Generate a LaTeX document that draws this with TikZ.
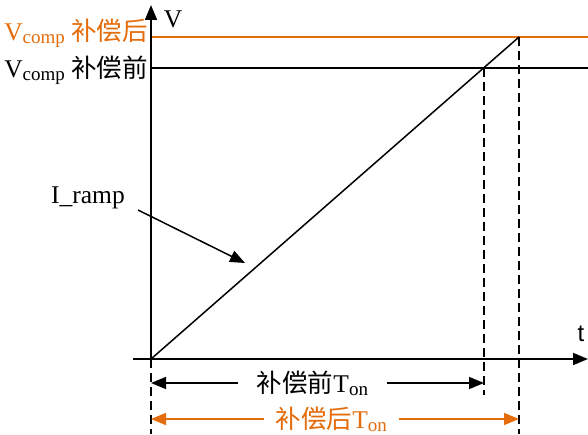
\documentclass[tikz,border=0pt]{standalone}
\usepackage{fontspec}
\setmainfont{Liberation Serif}
\newfontfamily\cjk{Noto Sans CJK SC}
\newfontfamily\axisfont{Liberation Sans}
\usetikzlibrary{arrows.meta}
\definecolor{comporange}{RGB}{228,108,10}
\newcommand{\lowsub}[1]{\raisebox{-3pt}{\fontsize{19}{19}\selectfont #1}}

\begin{document}
\begin{tikzpicture}[x=1pt, y=1pt,
    tip/.style={-{Triangle[length=15pt,width=12pt]}},
    axis/.style={line width=1.7pt, tip},
    level/.style={line width=1.5pt},
    guide/.style={line width=1.5pt, dash pattern=on 9pt off 5pt},
    span/.style={line width=1.5pt, {Triangle[length=15pt,width=12pt]}-{Triangle[length=15pt,width=12pt]}},
    lbl/.style={inner sep=1pt, font=\fontsize{25.5}{28}\selectfont}
]
\useasboundingbox (0,0) rectangle (588,434);

% points of the plot
\coordinate (O) at (151,75);
\coordinate (ytop) at (151,429);
\coordinate (xleft) at (133,75);
\coordinate (xright) at (588,75);
\coordinate (hiL) at (151,397);
\coordinate (hiR) at (588,397);
\coordinate (loL) at (151,366);
\coordinate (loR) at (588,366);
\coordinate (peak) at (519,397);
\coordinate (cross) at (484,366);
\coordinate (crossB) at (484,39);
\coordinate (peakB) at (519,0);
\coordinate (OB) at (151,0);
\coordinate (spanA) at (151,51);
\coordinate (spanAR) at (484,51);
\coordinate (spanB) at (151,15);
\coordinate (spanBR) at (519,15);
\coordinate (rampTip) at (245,171);

% levels
\draw[level, comporange] (hiL) -- (hiR);
\draw[level] (loL) -- (loR);

% axes
\draw[axis] (O) -- (ytop);
\draw[axis] (xleft) -- (xright);
\node[lbl] (vlab) at (173,415) {V};
\node[lbl, font=\axisfont\fontsize{24}{26}\selectfont] (tlab) at (581,100) {t};

% ramp
\draw[level] (O) -- (peak);

% guides
\draw[guide] (cross) -- (crossB);
\draw[guide] (peak) -- (peakB);
\draw[guide] (O) -- (OB);

% level labels
\node[lbl, anchor=east, text=comporange] (vafter) at (149,401) {V\lowsub{comp} {\cjk 补偿后}};
\node[lbl, anchor=east] (vbefore) at (149,364) {V\lowsub{comp} {\cjk 补偿前}};

% ramp label
\node[lbl] (ramp) at (88,236) {I\_ramp};
\draw[level, tip] (138,224) -- (rampTip);

% on-time spans
\draw[span] (spanA) -- node[lbl, fill=white, inner xsep=19pt, inner ysep=0pt, pos=0.485] (tbefore) {{\cjk 补偿前}T\lowsub{on}} (spanAR);
\draw[span, comporange] (spanB) -- node[lbl, fill=white, inner xsep=12pt, inner ysep=0pt, text=comporange, pos=0.49] (tafter) {{\cjk 补偿后}T\lowsub{on}} (spanBR);
\end{tikzpicture}
\end{document}
